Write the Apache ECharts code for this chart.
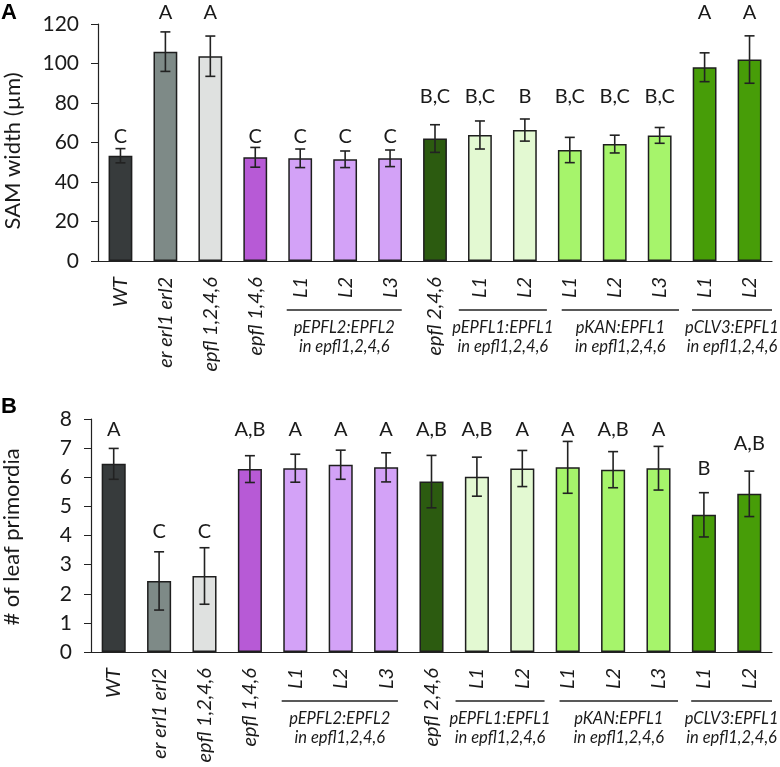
<!DOCTYPE html>
<html>
<head>
<meta charset="utf-8">
<script src="https://cdn.jsdelivr.net/npm/echarts@6/dist/echarts.min.js"></script>
<style>html,body{margin:0;padding:0;background:#fff}#c{width:780px;height:767px}</style>
</head>
<body>
<div id="c"></div>
<script>
// ---------- data ----------
const categories = ['WT','er erl1 erl2','epfl 1,2,4,6','epfl 1,4,6','L1','L2','L3','epfl 2,4,6','L1','L2','L1','L2','L3','L1','L2'];
const barColors = ['#373b3c','#7e8a87','#dfe1e0','#b75ad6','#d3a2f7','#d3a2f7','#d3a2f7','#2c5b10','#e3f9d2','#e3f9d2','#a6f46b','#a6f46b','#a6f46b','#479d08','#479d08'];

const widthMean = [53.3,106,103.7,52.5,52,51.5,52,62,63.8,66.3,56.2,59.2,63.6,98.1,102];
const widthErr  = [3.6,10,10.2,5,4.7,4.2,4.2,7,7.1,5.6,6.4,4.5,4,7.3,12];
const widthLetters = ['C','A','A','C','C','C','C','B,C','B,C','B','B,C','B,C','B,C','A','A'];
const widthLetterY = [62.8,125.6,125.6,62.8,62.8,62.8,62.8,83.5,83.5,83.5,83.5,83.5,83.5,125.6,125.6];
const widthTicks = [0,20,40,60,80,100,120];

const primMean = [6.46,2.44,2.61,6.28,6.31,6.43,6.34,5.85,6.02,6.30,6.34,6.26,6.31,4.71,5.43];
const primErr  = [0.53,1.0,0.97,0.46,0.48,0.5,0.5,0.9,0.67,0.62,0.89,0.62,0.75,0.76,0.78];
const primLetters = ['A','C','C','A,B','A','A','A','A,B','A,B','A','A','A,B','A','B','A,B'];
const primLetterY = [7.63,4.14,4.14,7.63,7.63,7.63,7.63,7.63,7.63,7.63,7.63,7.63,7.63,6.31,7.17];
const primTicks = [0,1,2,3,4,5,6,7,8];

const groupNames = ['pEPFL2:EPFL2','pEPFL1:EPFL1','pKAN:EPFL1','pCLV3:EPFL1'];
const groupSub = 'in epfl1,2,4,6';
const groupFirst = [4,8,10,13];
const groupLast  = [6,9,12,14];

// ---------- layout ----------
const FONT = 'Lato, Carlito, "Open Sans", sans-serif';
const groupPad = [[-0.3,0.26],[-0.47,0.49],[-0.18,0.43],[-0.28,0.5]];
const INK = '#1a1a1a';

function errRender(params, api) {
  const x = api.value(0), m = api.value(1), e = api.value(2);
  const t = api.coord([x, m + e]), b = api.coord([x, m - e]);
  const c = 5;
  const st = {stroke: '#222', lineWidth: 1.6};
  return {type: 'group', children: [
    {type: 'line', shape: {x1: t[0], y1: t[1], x2: b[0], y2: b[1]}, style: st},
    {type: 'line', shape: {x1: t[0]-c, y1: t[1], x2: t[0]+c, y2: t[1]}, style: st},
    {type: 'line', shape: {x1: b[0]-c, y1: b[1], x2: b[0]+c, y2: b[1]}, style: st}
  ]};
}
function letterRender(letters) {
  return function (params, api) {
    const p = api.coord([api.value(0), api.value(1)]);
    return {type: 'text', x: p[0], y: p[1], style: {
      text: letters[params.dataIndex], font: '20px ' + FONT, fill: INK,
      align: 'center', verticalAlign: 'middle', textAlign: 'center', textVerticalAlign: 'middle'}};
  };
}
function groupRender(params, api) {
  const i = params.dataIndex;
  const bw = api.size([1, 0])[0];
  const p0 = api.coord([api.value(0), 0]);
  const p1 = api.coord([api.value(1), 0]);
  const x0 = p0[0] + groupPad[i][0] * bw, x1 = p1[0] + groupPad[i][1] * bw;
  const y = p0[1];
  const cx = (x0 + x1) / 2;
  const ts = {font: 'italic 16.5px ' + FONT, fill: INK, align: 'center', verticalAlign: 'middle', textAlign: 'center', textVerticalAlign: 'middle'};
  return {type: 'group', children: [
    {type: 'line', shape: {x1: x0, y1: y + 49, x2: x1, y2: y + 49}, style: {stroke: '#222', lineWidth: 1.5}},
    {type: 'text', x: cx, y: y + 67, style: Object.assign({text: groupNames[i]}, ts)},
    {type: 'text', x: cx, y: y + 86, style: Object.assign({text: groupSub}, ts)}
  ]};
}

function xAxisFor(gi) {
  return {
    type: 'category', gridIndex: gi,
    data: categories.map((_, i) => String(i)),
    axisLine: {lineStyle: {color: '#222', width: 1.2}},
    axisTick: {show: false},
    axisLabel: {rotate: 90, margin: 16, fontStyle: 'italic', fontSize: 20, fontFamily: FONT, color: INK,
      interval: 0, formatter: v => categories[+v]}
  };
}
function yAxisFor(gi, ticks) {
  return {
    type: 'value', gridIndex: gi, min: ticks[0], max: ticks[ticks.length - 1],
    interval: ticks[1] - ticks[0],
    splitLine: {show: false},
    axisLine: {show: true, lineStyle: {color: '#222', width: 1.2}},
    axisTick: {show: true, length: 7, lineStyle: {color: '#222'}},
    axisLabel: {fontSize: 21, fontFamily: FONT, color: INK, margin: 19}
  };
}
function seriesFor(gi, means, errs, letters, letterY) {
  return [
    {type: 'bar', xAxisIndex: gi, yAxisIndex: gi, barWidth: '53%',
      data: means.map((v, i) => ({value: v, itemStyle: {color: barColors[i]}})),
      itemStyle: {borderColor: '#1e1e1e', borderWidth: 1.5}, z: 2, silent: true},
    {type: 'custom', xAxisIndex: gi, yAxisIndex: gi, renderItem: errRender, z: 3,
      encode: {x: 0, y: 1}, data: means.map((v, i) => [i, v, errs[i]])},
    {type: 'custom', xAxisIndex: gi, yAxisIndex: gi, renderItem: letterRender(letters), z: 3,
      encode: {x: 0, y: 1}, data: letterY.map((v, i) => [i, v])},
    {type: 'custom', xAxisIndex: gi, yAxisIndex: gi, renderItem: groupRender, z: 3,
      encode: {x: 0, y: 2}, data: groupFirst.map((f, i) => [f, groupLast[i], 0])}
  ];
}

const chart = echarts.init(document.getElementById('c'), null, {renderer: 'canvas'});
chart.setOption({
  animation: false,
  backgroundColor: '#fff',
  grid: [
    {left: 98, right: 8, top: 24, height: 237},
    {left: 91, right: 8, top: 419, height: 233}
  ],
  xAxis: [xAxisFor(0), xAxisFor(1)],
  yAxis: [yAxisFor(0, widthTicks), yAxisFor(1, primTicks)],
  series: [].concat(
    seriesFor(0, widthMean, widthErr, widthLetters, widthLetterY),
    seriesFor(1, primMean, primErr, primLetters, primLetterY)
  ),
  graphic: [
    {type: 'text', x: 1, y: 2, style: {text: 'A', font: 'bold 22px "Liberation Sans", Arial, sans-serif', fill: '#000'}},
    {type: 'text', x: 1, y: 396, style: {text: 'B', font: 'bold 22px "Liberation Sans", Arial, sans-serif', fill: '#000'}},
    {type: 'text', x: 13, y: 151, rotation: Math.PI / 2,
      style: {text: 'SAM width (\u00b5m)', font: '22px ' + FONT, fill: INK, align: 'center', verticalAlign: 'middle', textAlign: 'center', textVerticalAlign: 'middle'}},
    {type: 'text', x: 12, y: 537, rotation: Math.PI / 2,
      style: {text: '# of leaf primordia', font: '22px ' + FONT, fill: INK, align: 'center', verticalAlign: 'middle', textAlign: 'center', textVerticalAlign: 'middle'}}
  ]
});
</script>
</body>
</html>
